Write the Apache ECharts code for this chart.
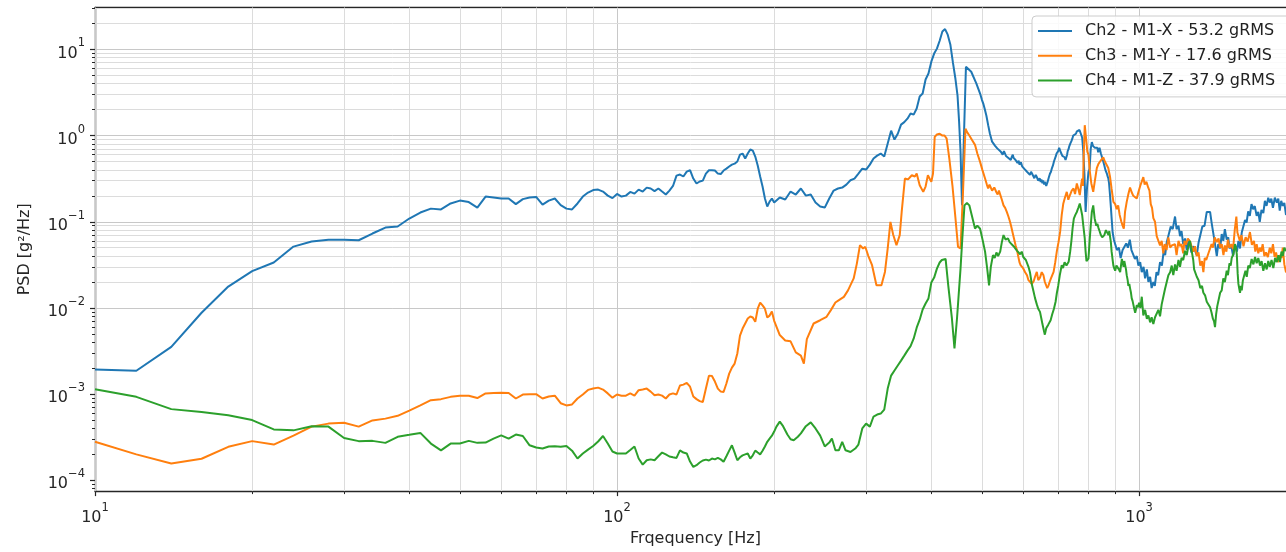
<!DOCTYPE html>
<html>
<head>
<meta charset="utf-8">
<title>PSD</title>
<script src="https://cdn.jsdelivr.net/npm/echarts@6/dist/echarts.min.js"></script>
<style>
  html, body { margin: 0; padding: 0; background: #ffffff; }
  #chart { width: 1286px; height: 552px; }
</style>
</head>
<body>
<div id="chart"></div>
<script>
// Legend entries, one per accelerometer channel
const channelNames = [
  'Ch2 - M1-X - 53.2 gRMS',
  'Ch3 - M1-Y - 17.6 gRMS',
  'Ch4 - M1-Z - 37.9 gRMS'
];

// [frequency Hz, PSD g^2/Hz]
const ch2 = [
  [10,0.00193],[12,0.00187],[14,0.00353],[16,0.0088],[18,0.0177],[20,0.0267],[22,0.0337],[24,0.0515],
  [26,0.059],[28,0.062],[30,0.062],[32,0.061],[34,0.073],[36,0.0855],[38,0.088],[40,0.109],[42,0.128],
  [44,0.142],[46,0.139],[48,0.163],[50,0.176],[52,0.169],[54,0.146],[56,0.196],[58,0.191],[60,0.186],
  [62,0.186],[64,0.160],[66,0.183],[68,0.191],[70,0.194],[72,0.158],[74,0.176],[76,0.186],[78,0.156],
  [80,0.142],[82,0.139],[84,0.163],[86,0.196],[88,0.218],[90,0.233],[92,0.236],[94,0.224],[96,0.201],
  [98,0.188],[100,0.21],[102,0.196],[104,0.201],[106,0.222],[108,0.212],[110,0.236],[112,0.224],
  [114,0.249],[116,0.243],[118,0.227],[120,0.243],[122,0.224],[124,0.207],[126,0.23],[128,0.26],
  [130,0.343],[132,0.353],[134,0.335],[136,0.382],[138,0.396],[140,0.317],[142,0.278],[144,0.293],
  [146,0.30],[148,0.362],[150,0.396],[152,0.396],[154,0.393],[156,0.362],[158,0.358],[160,0.393],
  [162,0.413],[164,0.437],[166,0.46],[168,0.472],[170,0.5],[172,0.60],[174,0.618],[176,0.542],
  [178,0.618],[180,0.689],[182,0.67],[184,0.57],[186,0.449],[188,0.335],[190,0.256],[192,0.186],
  [194,0.15],[196,0.171],[198,0.186],[200,0.167],[205,0.191],[210,0.181],[215,0.224],[220,0.207],
  [225,0.243],[230,0.201],[235,0.207],[240,0.167],[245,0.15],[250,0.146],[255,0.186],[260,0.23],
  [265,0.243],[270,0.249],[275,0.27],[280,0.303],[285,0.317],[290,0.362],[295,0.413],[300,0.403],
  [305,0.46],[310,0.542],[315,0.585],[320,0.618],[325,0.57],[330,0.808],[335,1.14],[340,0.898],
  [345,1.05],[350,1.34],[355,1.43],[360,1.57],[365,1.8],[370,1.75],[375,2.06],[380,2.84],[385,3.07],
  [390,4.47],[395,5.25],[400,7.2],[405,8.93],[410,10.2],[415,12.6],[420,16.1],[425,17.2],[430,14.8],
  [435,11.4],[440,7.0],[445,4.5],[449,2.93],[452,1.5],[455,0.65],[458,0.155],[461,0.65],[466,6.3],
  [470,6.5],[477,5.5],[488,4.0],[496,3.07],[500,2.6],[503,2.35],[506,2.06],[510,1.7],[514,1.32],
  [518,1.05],[523,0.85],[527,0.82],[530,0.76],[533,0.78],[535,0.71],[539,0.74],[543,0.655],[546,0.69],
  [548,0.60],[551,0.66],[553,0.64],[556,0.58],[559,0.61],[562,0.55],[565,0.58],[568,0.52],[570,0.56],
  [573,0.60],[575,0.55],[578,0.57],[580,0.52],[583,0.54],[585,0.48],[588,0.51],[590,0.46],[594,0.49],
  [597,0.44],[600,0.46],[603,0.41],[606,0.43],[610,0.38],[614,0.40],[618,0.35],[621,0.38],[624,0.36],
  [627,0.34],[630,0.32],[634,0.35],[637,0.33],[641,0.30],[645,0.32],[648,0.29],[650,0.31],[653,0.28],
  [655,0.30],[658,0.27],[660,0.29],[664,0.26],[668,0.29],[672,0.33],[675,0.36],[678,0.38],[681,0.42],
  [684,0.45],[687,0.50],[690,0.52],[693,0.58],[695,0.62],[698,0.64],[700,0.66],[703,0.72],[705,0.70],
  [708,0.64],[710,0.62],[713,0.58],[715,0.60],[718,0.55],[720,0.56],[723,0.52],[725,0.54],[728,0.60],
  [730,0.66],[733,0.70],[735,0.75],[738,0.80],[742,0.86],[745,0.92],[748,1.0],[751,0.97],[754,0.95],
  [757,1.05],[760,1.12],[763,1.08],[766,1.1],[769,1.16],[771,1.21],[774,1.1],[778,0.95],[782,0.65],
  [786,0.35],[790,0.13],[795,0.25],[800,0.38],[804,0.41],[808,0.70],[812,0.84],[816,0.76],[820,0.78],
  [823,0.72],[826,0.70],[829,0.74],[832,0.72],[835,0.64],[837,0.66],[840,0.72],[842,0.70],[845,0.62],
  [848,0.58],[851,0.56],[854,0.50],[856,0.48],[858,0.45],[860,0.43],[862,0.40],[865,0.38],[868,0.36],
  [870,0.34],[873,0.32],[876,0.28],[880,0.20],[883,0.15],[886,0.11],[890,0.075],[895,0.062],
  [900,0.055],[907,0.047],[915,0.050],[922,0.038],[930,0.047],[937,0.046],[945,0.056],[952,0.050],
  [960,0.062],[967,0.047],[975,0.048],[982,0.037],[990,0.040],[997,0.031],[1005,0.034],[1012,0.026],
  [1020,0.030],[1027,0.022],[1035,0.028],[1042,0.020],[1050,0.023],[1057,0.017],[1065,0.020],
  [1072,0.018],[1080,0.026],[1088,0.024],[1097,0.034],[1106,0.031],[1115,0.046],[1122,0.041],
  [1130,0.058],[1140,0.058],[1150,0.088],[1160,0.082],[1172,0.115],[1180,0.082],[1190,0.09],
  [1198,0.068],[1206,0.078],[1215,0.055],[1225,0.064],[1234,0.047],[1245,0.062],[1260,0.044],
  [1270,0.052],[1290,0.041],[1300,0.057],[1310,0.058],[1322,0.088],[1335,0.09],[1348,0.13],
  [1358,0.125],[1368,0.13],[1378,0.095],[1386,0.092],[1395,0.06],[1402,0.06],[1409,0.04],[1418,0.055],
  [1430,0.049],[1440,0.072],[1450,0.06],[1460,0.082],[1472,0.062],[1482,0.066],[1490,0.049],
  [1502,0.053],[1514,0.04],[1526,0.055],[1540,0.045],[1550,0.06],[1561,0.049],[1573,0.075],
  [1585,0.072],[1596,0.105],[1607,0.098],[1618,0.132],[1630,0.117],[1642,0.16],[1654,0.14],
  [1666,0.152],[1680,0.117],[1692,0.13],[1703,0.1],[1716,0.137],[1730,0.126],[1742,0.175],[1755,0.153],
  [1768,0.19],[1780,0.167],[1792,0.185],[1805,0.145],[1820,0.19],[1836,0.167],[1848,0.185],
  [1860,0.135],[1872,0.175],[1885,0.153],[1898,0.165],[1912,0.12],[1950,0.14]
];

const ch3 = [
  [10,2.8e-4],[12,2.0e-4],[14,1.57e-4],[16,1.78e-4],[18,2.45e-4],[20,2.85e-4],[22,2.6e-4],[24,3.3e-4],
  [26,4.2e-4],[28,4.55e-4],[30,4.65e-4],[32,4.2e-4],[34,4.95e-4],[36,5.2e-4],[38,5.6e-4],[40,6.45e-4],
  [42,7.4e-4],[44,8.5e-4],[46,8.75e-4],[48,9.3e-4],[50,9.6e-4],[52,9.6e-4],[54,9.0e-4],[56,1.02e-3],
  [58,1.03e-3],[60,1.035e-3],[62,1.03e-3],[64,8.9e-4],[66,9.9e-4],[68,1.0e-3],[70,1.0e-3],[72,8.9e-4],
  [74,9.4e-4],[76,9.6e-4],[78,7.85e-4],[80,7.4e-4],[82,7.6e-4],[84,8.9e-4],[86,9.9e-4],[88,1.12e-3],
  [90,1.16e-3],[92,1.19e-3],[94,1.13e-3],[96,1.02e-3],[98,9.1e-4],[100,9.9e-4],[102,9.6e-4],
  [104,9.6e-4],[106,1.02e-3],[108,9.6e-4],[110,1.11e-3],[112,1.13e-3],[114,1.16e-3],[116,1.07e-3],
  [118,9.7e-4],[120,9.9e-4],[122,9.6e-4],[124,8.9e-4],[126,9.9e-4],[128,1.02e-3],[130,9.9e-4],
  [132,1.26e-3],[134,1.29e-3],[136,1.35e-3],[138,1.22e-3],[140,9.4e-4],[142,8.75e-4],[144,8.3e-4],
  [146,8.1e-4],[148,1.16e-3],[150,1.64e-3],[152,1.62e-3],[154,1.4e-3],[156,1.16e-3],[158,1.07e-3],
  [160,1.06e-3],[162,1.33e-3],[164,1.73e-3],[166,2.03e-3],[168,2.26e-3],[170,2.96e-3],[172,4.78e-3],
  [174,5.77e-3],[176,6.6e-3],[178,7.55e-3],[180,7.96e-3],[182,7.75e-3],[184,6.9e-3],[186,9.8e-3],
  [188,1.155e-2],[190,1.07e-2],[192,9.8e-3],[194,7.75e-3],[196,8.15e-3],[198,9.1e-3],[200,7.1e-3],
  [205,4.85e-3],[210,4.2e-3],[215,4.1e-3],[220,3.05e-3],[225,2.8e-3],[228,2.26e-3],[231,4.35e-3],
  [238,6.6e-3],[245,7.2e-3],[252,7.9e-3],[257,9.5e-3],[262,1.155e-2],[267,1.25e-2],[272,1.345e-2],
  [277,1.6e-2],[284,0.022],[288,0.0327],[292,0.0535],[296,0.049],[299,0.051],[303,0.04],[308,0.0313],
  [314,0.0183],[321,0.0183],[326,0.0262],[330,0.049],[334,0.0997],[338,0.071],[343,0.0535],[348,0.07],
  [351,0.13],[356,0.317],[361,0.31],[367,0.346],[372,0.335],[375,0.362],[380,0.265],[386,0.222],
  [390,0.256],[394,0.346],[400,0.29],[403,0.362],[406,0.965],[410,1.03],[415,1.05],[420,1.0],
  [424,1.0],[428,0.92],[433,0.542],[439,0.265],[445,0.109],[450,0.051],[455,0.049],[460,0.222],
  [465,1.2],[469,1.08],[473,1.0],[479,0.88],[485,0.78],[490,0.62],[496,0.495],[501,0.40],[507,0.317],
  [511,0.27],[514,0.243],[517,0.27],[520,0.26],[523,0.23],[525,0.224],[528,0.25],[530,0.243],
  [533,0.22],[536,0.207],[539,0.23],[542,0.222],[546,0.18],[550,0.155],[554,0.145],[558,0.13],
  [562,0.115],[566,0.1],[569,0.088],[573,0.073],[576,0.064],[580,0.0535],[584,0.046],[587,0.0395],
  [590,0.034],[593,0.0313],[597,0.030],[600,0.0287],[605,0.026],[610,0.0239],[614,0.021],[618,0.022],
  [623,0.019],[628,0.0203],[632,0.023],[637,0.0262],[641,0.021],[646,0.0225],[651,0.026],[656,0.0239],
  [660,0.020],[664,0.021],[667,0.017],[671,0.0183],[674,0.020],[678,0.022],[682,0.021],[686,0.0262],
  [691,0.034],[696,0.046],[701,0.058],[706,0.0763],[711,0.12],[716,0.163],[721,0.19],[727,0.222],
  [732,0.18],[738,0.207],[743,0.23],[749,0.243],[754,0.21],[760,0.278],[765,0.24],[770,0.204],
  [774,0.26],[778,0.317],[781,0.26],[783,0.542],[787,1.32],[792,0.9],[796,0.65],[800,0.6],[805,0.38],
  [810,0.28],[817,0.222],[823,0.3],[830,0.42],[836,0.47],[842,0.50],[848,0.53],[854,0.56],[860,0.50],
  [867,0.495],[873,0.42],[880,0.33],[886,0.24],[893,0.17],[900,0.16],[906,0.14],[912,0.155],[918,0.12],
  [925,0.10],[930,0.09],[935,0.083],[940,0.13],[947,0.17],[954,0.21],[961,0.25],[968,0.22],[975,0.20],
  [982,0.19],[990,0.186],[997,0.22],[1005,0.26],[1012,0.25],[1019,0.33],[1025,0.27],[1033,0.29],
  [1041,0.25],[1047,0.23],[1053,0.16],[1059,0.145],[1065,0.11],[1073,0.10],[1081,0.068],[1089,0.07],
  [1097,0.053],[1105,0.06],[1113,0.043],[1120,0.055],[1129,0.047],[1138,0.066],[1147,0.05],
  [1155,0.053],[1163,0.054],[1172,0.055],[1180,0.041],[1190,0.06],[1198,0.052],[1206,0.055],
  [1215,0.043],[1222,0.06],[1230,0.054],[1240,0.064],[1252,0.059],[1260,0.06],[1270,0.045],
  [1280,0.052],[1290,0.04],[1300,0.044],[1310,0.031],[1320,0.035],[1328,0.026],[1336,0.038],
  [1345,0.036],[1356,0.042],[1368,0.041],[1377,0.055],[1385,0.05],[1396,0.066],[1409,0.058],
  [1420,0.064],[1430,0.05],[1440,0.055],[1451,0.041],[1460,0.053],[1470,0.045],[1480,0.062],
  [1490,0.05],[1502,0.055],[1514,0.048],[1525,0.08],[1536,0.115],[1543,0.075],[1550,0.074],
  [1560,0.06],[1571,0.07],[1585,0.052],[1600,0.066],[1615,0.059],[1631,0.076],[1645,0.054],
  [1660,0.06],[1670,0.045],[1680,0.055],[1692,0.043],[1703,0.05],[1714,0.045],[1725,0.055],
  [1738,0.04],[1750,0.044],[1765,0.039],[1780,0.05],[1792,0.043],[1805,0.055],[1818,0.039],
  [1830,0.044],[1846,0.034],[1862,0.041],[1874,0.038],[1885,0.05],[1898,0.032],[1912,0.026],[1950,0.03]
];

const ch4 = [
  [10,1.14e-3],[12,9.3e-4],[14,6.7e-4],[16,6.2e-4],[18,5.7e-4],[20,5.0e-4],[22,3.9e-4],[24,3.8e-4],
  [26,4.25e-4],[28,4.2e-4],[30,3.1e-4],[32,2.85e-4],[34,2.87e-4],[36,2.72e-4],[38,3.2e-4],[40,3.37e-4],
  [42,3.55e-4],[44,2.67e-4],[46,2.23e-4],[48,2.67e-4],[50,2.67e-4],[52,2.87e-4],[54,2.72e-4],
  [56,2.74e-4],[58,3.05e-4],[60,3.33e-4],[62,3.05e-4],[64,3.4e-4],[66,3.27e-4],[68,2.55e-4],[70,2.4e-4],
  [72,2.34e-4],[74,2.47e-4],[76,2.49e-4],[78,2.45e-4],[80,2.5e-4],[82,2.21e-4],[84,1.79e-4],[86,2.05e-4],
  [88,2.27e-4],[90,2.5e-4],[92,2.82e-4],[94,3.27e-4],[96,2.67e-4],[98,2.16e-4],[100,2.05e-4],
  [102,2.05e-4],[104,2.05e-4],[106,2.25e-4],[108,2.47e-4],[110,1.79e-4],[112,1.52e-4],[114,1.71e-4],
  [116,1.75e-4],[118,1.71e-4],[120,1.9e-4],[122,2.1e-4],[124,2.0e-4],[126,1.89e-4],[128,1.85e-4],
  [130,1.82e-4],[132,2.23e-4],[134,2.1e-4],[136,2.05e-4],[138,1.65e-4],[140,1.43e-4],[142,1.5e-4],
  [144,1.61e-4],[146,1.7e-4],[148,1.74e-4],[150,1.7e-4],[152,1.79e-4],[154,1.75e-4],[156,1.82e-4],
  [158,1.75e-4],[160,1.64e-4],[162,1.9e-4],[164,2.21e-4],[166,2.55e-4],[168,2.1e-4],[170,1.71e-4],
  [172,1.85e-4],[174,1.95e-4],[176,2.0e-4],[178,2.05e-4],[180,1.79e-4],[182,1.95e-4],[184,2.21e-4],
  [186,2.1e-4],[188,2.0e-4],[190,2.2e-4],[192,2.47e-4],[194,2.8e-4],[196,3.05e-4],[198,3.3e-4],
  [200,3.68e-4],[202,4.2e-4],[205,4.8e-4],[208,4.25e-4],[212,3.4e-4],[215,3.0e-4],[218,2.92e-4],
  [222,3.2e-4],[225,3.5e-4],[230,4.25e-4],[235,4.7e-4],[240,4.0e-4],[245,3.3e-4],[250,2.47e-4],
  [255,2.74e-4],[258,3.05e-4],[262,2.23e-4],[266,2.23e-4],[270,2.8e-4],[274,2.23e-4],[280,2.13e-4],
  [286,2.34e-4],[290,2.6e-4],[295,4.0e-4],[300,4.55e-4],[305,4.2e-4],[310,5.5e-4],[315,5.8e-4],
  [320,5.95e-4],[325,6.6e-4],[330,1.16e-3],[335,1.64e-3],[340,1.88e-3],[345,2.15e-3],[350,2.45e-3],
  [355,2.8e-3],[360,3.2e-3],[365,3.6e-3],[370,4.4e-3],[375,5.9e-3],[380,7.3e-3],[385,9.6e-3],
  [390,1.125e-2],[395,1.29e-2],[400,0.0197],[405,0.0225],[410,0.0286],[415,0.0337],[419,0.036],
  [426,0.037],[431,0.0183],[438,0.0076],[443,0.0034],[448,0.0076],[455,0.0286],[459,0.07],[463,0.155],
  [468,0.165],[473,0.155],[478,0.12],[485,0.0835],[490,0.09],[496,0.083],[502,0.06],[507,0.045],
  [512,0.028],[516,0.0183],[520,0.03],[525,0.041],[529,0.038],[533,0.044],[537,0.040],[542,0.045],
  [546,0.058],[550,0.07],[555,0.062],[561,0.064],[565,0.058],[570,0.06],[575,0.052],[580,0.0535],
  [584,0.046],[588,0.048],[592,0.042],[596,0.045],[600,0.039],[603,0.04],[607,0.036],[610,0.0374],
  [614,0.030],[618,0.026],[623,0.019],[628,0.0154],[632,0.013],[637,0.011],[641,0.0098],[646,0.009],
  [650,0.0075],[653,0.0065],[657,0.0055],[660,0.0049],[664,0.0058],[667,0.0055],[670,0.0064],
  [673,0.0061],[677,0.0072],[682,0.0085],[687,0.0098],[692,0.0118],[696,0.015],[700,0.018],
  [705,0.024],[711,0.0313],[715,0.029],[720,0.034],[726,0.031],[733,0.0343],[738,0.045],[742,0.06],
  [746,0.085],[750,0.109],[755,0.12],[760,0.13],[765,0.145],[770,0.163],[774,0.14],[778,0.12],
  [782,0.09],[787,0.064],[790,0.045],[793,0.035],[796,0.034],[800,0.0374],[804,0.06],[808,0.09],
  [812,0.13],[817,0.155],[822,0.11],[828,0.09],[832,0.095],[836,0.085],[840,0.078],[845,0.07],
  [850,0.066],[854,0.064],[858,0.07],[861,0.075],[864,0.08],[867,0.084],[870,0.076],[874,0.07],
  [877,0.078],[880,0.075],[883,0.058],[886,0.045],[890,0.036],[893,0.031],[896,0.029],[900,0.027],
  [905,0.031],[910,0.03],[915,0.028],[920,0.026],[924,0.032],[927,0.037],[931,0.033],[934,0.03],
  [937,0.035],[940,0.034],[944,0.028],[947,0.024],[951,0.021],[954,0.018],[958,0.019],[961,0.017],
  [965,0.015],[968,0.013],[972,0.012],[975,0.011],[979,0.0098],[983,0.0088],[986,0.0095],[990,0.0108],
  [995,0.0102],[1000,0.0115],[1006,0.010],[1012,0.0135],[1019,0.0082],[1027,0.0095],[1035,0.0075],
  [1042,0.0082],[1050,0.0068],[1057,0.0078],[1065,0.0065],[1073,0.0078],[1081,0.0082],[1089,0.0095],
  [1097,0.008],[1105,0.011],[1113,0.0135],[1121,0.0165],[1130,0.017],[1138,0.024],[1147,0.026],
  [1155,0.031],[1163,0.024],[1172,0.032],[1180,0.027],[1190,0.036],[1198,0.03],[1206,0.038],
  [1215,0.036],[1225,0.046],[1234,0.041],[1243,0.052],[1252,0.06],[1262,0.045],[1270,0.036],
  [1275,0.028],[1283,0.029],[1290,0.023],[1300,0.021],[1310,0.017],[1320,0.018],[1328,0.015],
  [1338,0.014],[1348,0.0118],[1358,0.012],[1368,0.0102],[1377,0.0088],[1385,0.0075],[1392,0.007],
  [1398,0.006],[1405,0.0085],[1412,0.0105],[1420,0.011],[1430,0.015],[1440,0.016],[1450,0.022],
  [1460,0.02],[1472,0.027],[1480,0.024],[1490,0.033],[1498,0.031],[1505,0.038],[1516,0.042],
  [1527,0.055],[1533,0.05],[1539,0.042],[1545,0.025],[1550,0.019],[1555,0.017],[1561,0.015],
  [1567,0.018],[1573,0.016],[1581,0.021],[1590,0.022],[1599,0.027],[1608,0.023],[1619,0.031],
  [1630,0.029],[1643,0.037],[1656,0.032],[1668,0.039],[1680,0.033],[1692,0.038],[1705,0.031],
  [1717,0.035],[1730,0.027],[1743,0.033],[1756,0.028],[1768,0.035],[1780,0.03],[1794,0.036],
  [1808,0.029],[1822,0.038],[1836,0.034],[1849,0.041],[1862,0.034],[1874,0.045],[1885,0.04],
  [1898,0.05],[1912,0.046],[1950,0.05]
];

// Axis ranges and tick positions; the visible frequency span stops a little short of 2 kHz
const freqRange = [10, 1912];
const psdRange = [7.5e-5, 30.6];
const majorFreqTicks = [10, 100, 1000];
const minorFreqTicks = [20, 30, 40, 50, 60, 70, 80, 90, 200, 300, 400, 500, 600, 700, 800, 900];
const majorPsdTicks = [1e-4, 1e-3, 1e-2, 1e-1, 1, 10];
const minorPsdTicks = [
  8e-5, 9e-5,
  2e-4, 3e-4, 4e-4, 5e-4, 6e-4, 7e-4, 8e-4, 9e-4,
  2e-3, 3e-3, 4e-3, 5e-3, 6e-3, 7e-3, 8e-3, 9e-3,
  0.02, 0.03, 0.04, 0.05, 0.06, 0.07, 0.08, 0.09,
  0.2, 0.3, 0.4, 0.5, 0.6, 0.7, 0.8, 0.9,
  2, 3, 4, 5, 6, 7, 8, 9,
  20, 30
];

const colors = ['#1f77b4', '#ff7f0e', '#2ca02c'];
const FONT = 'DejaVu Sans';
const INK = '#262626';

// "10^n" labels drawn as rich text with a raised exponent
function powerLabel(value) {
  const e = Math.round(Math.log10(value));
  if (Math.abs(Math.log10(value) - e) > 1e-6) return '';
  return '{b|10}{s|' + (e < 0 ? '\u2212' : '') + Math.abs(e) + '}';
}
const powerRich = {
  b: { fontFamily: FONT, fontSize: 16, color: INK, lineHeight: 24, verticalAlign: 'bottom' },
  s: { fontFamily: FONT, fontSize: 11.5, color: INK, lineHeight: 10, verticalAlign: 'top' }
};

// Grid lines at every major and minor decade position
const gridLines = [].concat(
  minorFreqTicks.map(v => ({ xAxis: v })),
  majorFreqTicks.map(v => ({ xAxis: v, lineStyle: { color: '#c8c8c8' } })),
  minorPsdTicks.map(v => ({ yAxis: v })),
  majorPsdTicks.map(v => ({ yAxis: v, lineStyle: { color: '#c8c8c8' } }))
);

const chart = echarts.init(document.getElementById('chart'), null, { renderer: 'canvas' });

const freqAxis = { type: 'log', logBase: 10, min: freqRange[0], max: freqRange[1] };
const psdAxis = { type: 'log', logBase: 10, min: psdRange[0], max: psdRange[1] };
const frame = { show: true, lineStyle: { color: INK, width: 1.4 } };

chart.setOption({
  animation: false,
  backgroundColor: '#ffffff',
  textStyle: { fontFamily: FONT },
  grid: { left: 95, right: 0, top: 7.5, bottom: 60.5, show: false },
  legend: {
    data: channelNames,
    orient: 'vertical',
    left: 1032, top: 16,
    icon: 'rect',
    itemWidth: 34, itemHeight: 2, itemGap: 4.7,
    padding: [5, 30, 6.5, 6],
    backgroundColor: 'rgba(255,255,255,0.85)',
    borderColor: '#cccccc', borderWidth: 1, borderRadius: 4,
    textStyle: { fontFamily: FONT, fontSize: 16, color: '#222222', lineHeight: 20, padding: [0, 0, 0, 8] },
    selectedMode: false
  },
  xAxis: [
    Object.assign({}, freqAxis, {
      position: 'bottom',
      name: 'Frqequency [Hz]', nameLocation: 'middle', nameGap: 36,
      nameTextStyle: { fontFamily: FONT, fontSize: 16, color: INK, padding: [0, 0, 0, 10] },
      axisLine: frame,
      axisTick: { show: true, customValues: majorFreqTicks, length: 5, lineStyle: { color: INK, width: 1.2 } },
      axisLabel: { show: true, customValues: majorFreqTicks, margin: 11, formatter: powerLabel, rich: powerRich },
      splitLine: { show: false }
    }),
    Object.assign({}, freqAxis, {
      position: 'bottom',
      axisLine: { show: false },
      axisTick: { show: true, customValues: minorFreqTicks, length: 3, lineStyle: { color: INK, width: 1 } },
      axisLabel: { show: false },
      splitLine: { show: false }
    }),
    Object.assign({}, freqAxis, {
      position: 'top',
      axisLine: frame,
      axisTick: { show: false },
      axisLabel: { show: false },
      splitLine: { show: false }
    })
  ],
  yAxis: [
    Object.assign({}, psdAxis, {
      position: 'left',
      name: 'PSD [g\u00b2/Hz]', nameLocation: 'middle', nameGap: 62, nameRotate: 90,
      nameTextStyle: { fontFamily: FONT, fontSize: 16, color: INK },
      axisLine: frame,
      axisTick: { show: true, customValues: majorPsdTicks, length: 5, lineStyle: { color: INK, width: 1.2 } },
      axisLabel: { show: true, customValues: majorPsdTicks, margin: 10, formatter: powerLabel, rich: powerRich },
      splitLine: { show: false }
    }),
    Object.assign({}, psdAxis, {
      position: 'left',
      axisLine: { show: false },
      axisTick: { show: true, customValues: minorPsdTicks, length: 3, lineStyle: { color: INK, width: 1 } },
      axisLabel: { show: false },
      splitLine: { show: false }
    })
  ],
  series: [ch2, ch3, ch4].map((data, i) => {
    const s = {
      name: channelNames[i],
      type: 'line',
      xAxisIndex: 0, yAxisIndex: 0,
      data: data,
      symbol: 'none', showSymbol: false,
      clip: true,
      z: 3,
      lineStyle: { color: colors[i], width: 2 },
      itemStyle: { color: colors[i] },
      emphasis: { disabled: true }
    };
    if (i === 0) {
      s.markLine = {
        silent: true, z: 1, animation: false,
        symbol: ['none', 'none'],
        label: { show: false },
        emphasis: { disabled: true },
        lineStyle: { color: '#dcdcdc', width: 1, type: 'solid' },
        data: gridLines
      };
    }
    return s;
  })
});
</script>
</body>
</html>
